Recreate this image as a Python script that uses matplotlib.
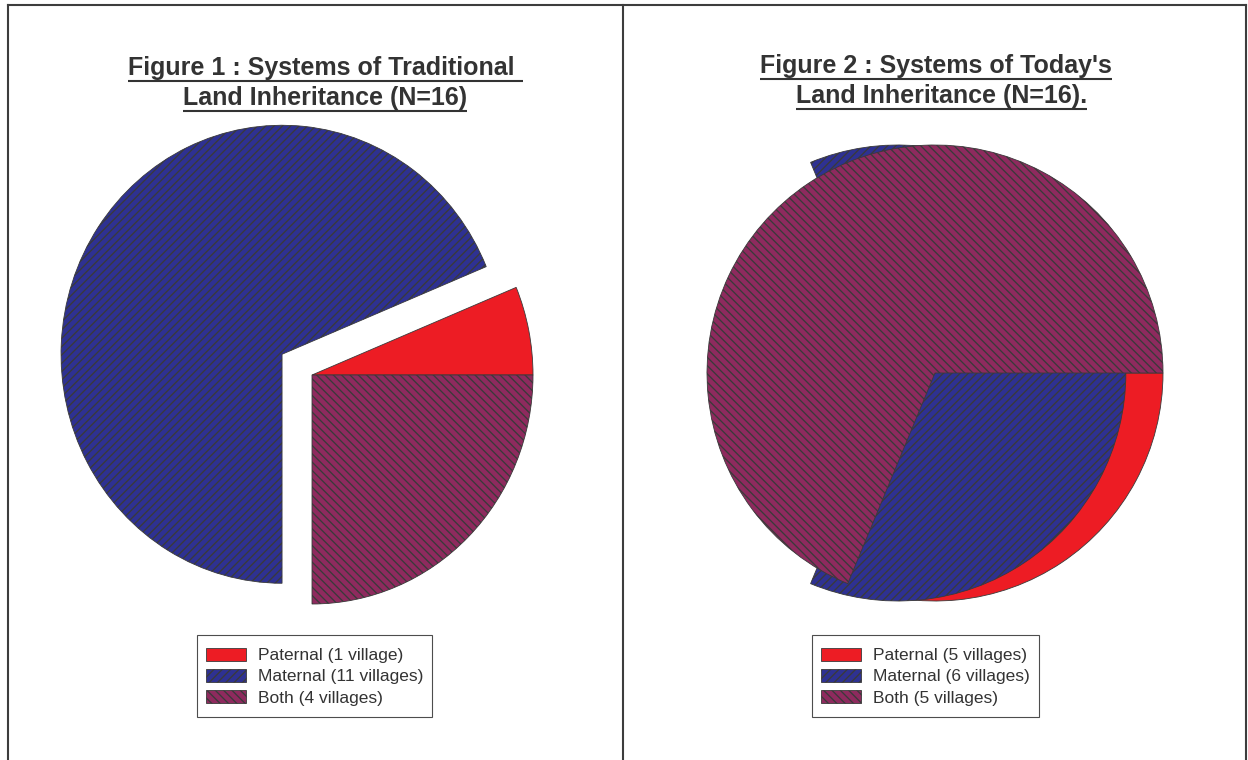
"""Two pie charts of land inheritance systems across 16 villages.

Figure 1 shows the traditional system, Figure 2 today's system. Each panel
has an underlined two-line title, the pie and a small legend box.
"""

import matplotlib

matplotlib.use("Agg")
import matplotlib.pyplot as plt
import numpy as np
from matplotlib.lines import Line2D
from matplotlib.patches import Patch, Rectangle, Wedge


W, H = 1248, 760
DPI = 100

N_VILLAGES = 16
CATEGORIES = ["Paternal", "Maternal", "Both"]
TRADITIONAL_VILLAGES = [1, 11, 4]
TODAY_VILLAGES = [5, 6, 5]

TITLE_1 = ["Figure 1 : Systems of Traditional", "Land Inheritance (N=16)"]
TITLE_2 = ["Figure 2 : Systems of Today's", "Land Inheritance (N=16)."]

COLORS = ["#ED1C24", "#2E3192", "#8E2A5E"]
HATCHES = [None, "////", "\\\\\\\\"]
EDGE = "#3a3a3a"
TEXT = "#333333"
FONT = "Liberation Sans"

EXPLODE = 0.163

plt.rcParams["hatch.linewidth"] = 0.95
plt.rcParams["font.family"] = FONT


def fx(px):
    return px / W


def fy(py):
    return 1 - py / H


def village_label(name, count):
    return f"{name} ({count} village{'' if count == 1 else 's'})"


def pie_axes(fig, cx, cy, rx, ry, pad=1.25):
    """Axes where one data unit is the pie radius (rx, ry in pixels)."""
    ax = fig.add_axes([fx(cx - pad * rx), fy(cy + pad * ry), 2 * pad * rx / W, 2 * pad * ry / H])
    ax.set_xlim(-pad, pad)
    ax.set_ylim(-pad, pad)
    ax.axis("off")
    return ax


def add_wedge(ax, theta1, theta2, idx, shift_angle=None, explode=0.0, z=1):
    cx, cy = 0.0, 0.0
    if shift_angle is not None:
        a = np.deg2rad(shift_angle)
        cx, cy = explode * np.cos(a), explode * np.sin(a)
    ax.add_patch(
        Wedge(
            (cx, cy),
            1.0,
            theta1,
            theta2,
            facecolor=COLORS[idx],
            edgecolor=EDGE,
            hatch=HATCHES[idx],
            linewidth=0.6,
            zorder=z,
            clip_on=False,
        )
    )


def draw_traditional(ax, values):
    """Counter-clockwise pie from 3 o'clock, maternal slice pulled out."""
    bounds = 360.0 * np.cumsum([0] + values) / N_VILLAGES
    for i in range(len(values)):
        mid = 0.5 * (bounds[i] + bounds[i + 1])
        add_wedge(ax, bounds[i], bounds[i + 1], i, shift_angle=mid,
                  explode=EXPLODE if i == 1 else 0.0, z=i + 1)


def draw_today(ax, values):
    """Clockwise pie from 3 o'clock as exported by the original chart tool."""
    bounds = -360.0 * np.cumsum([0] + values) / N_VILLAGES
    # paternal slice
    add_wedge(ax, bounds[1], bounds[0], 0, z=1)
    # maternal slice, pulled out along the middle of its own span
    mid = 0.5 * (bounds[1] + bounds[2])
    add_wedge(ax, bounds[1], bounds[2] + 360, 1, shift_angle=mid, explode=EXPLODE, z=2)
    # "both" fills the rest of the disc
    add_wedge(ax, bounds[0], bounds[1] + 360, 2, z=3)


def add_title(fig, lines, centers, baselines, extend_first=0.0):
    renderer = fig.canvas.get_renderer()
    for k, (line, xc, yb) in enumerate(zip(lines, centers, baselines)):
        t = fig.text(fx(xc), fy(yb), line, ha="center", va="baseline",
                     fontsize=18, fontweight="bold", color=TEXT, family=FONT)
        bb = t.get_window_extent(renderer)
        x1 = bb.x1 + (extend_first if k == 0 else 0.0)
        uy = fy(yb + 5.5)
        fig.add_artist(Line2D([bb.x0 / W, x1 / W], [uy, uy], color=TEXT,
                              linewidth=1.5, solid_capstyle="butt"))


def add_legend(fig, values, box):
    """Legend entries inside a plain rectangular box (left, top, right, bottom)."""
    left, top, right, bottom = box
    fig.add_artist(Rectangle((fx(left), fy(bottom)), (right - left) / W, (bottom - top) / H,
                             transform=fig.transFigure, facecolor="white",
                             edgecolor="#4d4d4d", linewidth=0.8, zorder=5))
    handles = [
        Patch(facecolor=COLORS[i], edgecolor=EDGE, hatch=HATCHES[i], linewidth=0.6)
        for i in range(len(values))
    ]
    labels = [village_label(c, v) for c, v in zip(CATEGORIES, values)]
    leg = fig.legend(
        handles,
        labels,
        loc="upper left",
        bbox_to_anchor=(fx(left + 9), fy(top + 12.5)),
        bbox_transform=fig.transFigure,
        borderaxespad=0,
        borderpad=0,
        frameon=False,
        fontsize=12.5,
        handlelength=2.3,
        handleheight=0.8,
        handletextpad=0.7,
        labelspacing=0.32,
        labelcolor=TEXT,
    )
    leg.set_zorder(6)


def add_frame(fig):
    style = dict(color="#3d3d3d", linewidth=1.5, solid_capstyle="projecting")
    fig.add_artist(Line2D([fx(8), fx(1246)], [fy(5), fy(5)], **style))
    for x in (8, 623, 1246):
        fig.add_artist(Line2D([fx(x), fx(x)], [fy(5), fy(762)], **style))


def main():
    fig = plt.figure(figsize=(W / DPI, H / DPI), dpi=DPI)
    fig.canvas.draw()

    ax1 = pie_axes(fig, 312, 375, 221, 229)
    draw_traditional(ax1, TRADITIONAL_VILLAGES)

    ax2 = pie_axes(fig, 935, 373, 228, 228)
    draw_today(ax2, TODAY_VILLAGES)

    add_title(fig, TITLE_1, [321.5, 325], [75, 105], extend_first=8)
    add_title(fig, TITLE_2, [936, 941.5], [73.5, 103.5])

    add_legend(fig, TRADITIONAL_VILLAGES, (197, 635, 432, 717))
    add_legend(fig, TODAY_VILLAGES, (812, 635, 1039, 717))

    add_frame(fig)

    fig.savefig("out.png", dpi=DPI)
    plt.close(fig)


if __name__ == "__main__":
    main()
